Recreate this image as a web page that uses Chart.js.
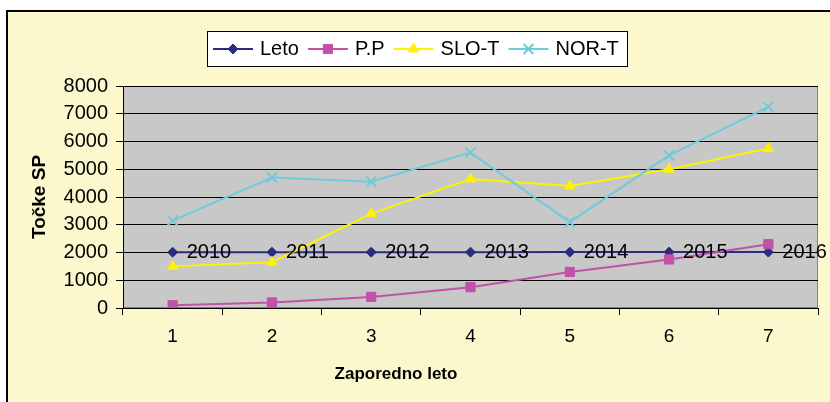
<!DOCTYPE html>
<html>
<head>
<meta charset="utf-8">
<script src="https://cdn.jsdelivr.net/npm/chart.js@4"></script>
<style>
  body { margin: 0; background: #fff; }
  #wrap {
    position: absolute; left: 6px; top: 10px;
    border-top: 2px solid #000; border-left: 2px solid #000;
    background: #FCF8CE;
  }
  canvas { display: block; }
</style>
</head>
<body>
<div id="wrap"><canvas id="myChart" width="822" height="390"></canvas></div>
<script>
// data
const categories = ['1', '2', '3', '4', '5', '6', '7'];
const leto = [2010, 2011, 2012, 2013, 2014, 2015, 2016];
const pp = [100, 200, 400, 750, 1300, 1750, 2300];
const sloT = [1500, 1650, 3400, 4650, 4400, 5000, 5750];
const norT = [3150, 4700, 4550, 5600, 3100, 5500, 7250];
const yMax = 8000;
const yStep = 1000;

const FONT = "'Liberation Sans', Arial, sans-serif";

//gray plot area with a thin border
const plotBg = {
  id: 'plotBg',
  beforeDraw(chart) {
    const {ctx, chartArea: a} = chart;
    ctx.save();
    ctx.fillStyle = '#C8C8C8';
    ctx.fillRect(a.left, a.top, a.width, a.height);
    ctx.strokeStyle = '#808080';
    ctx.lineWidth = 1;
    ctx.strokeRect(a.left + 0.5, a.top + 0.5, a.width - 1, a.height - 1);
    ctx.restore();
  }
};

//year labels next to the Leto points
const letoLabels = {
  id: 'letoLabels',
  afterDatasetsDraw(chart) {
    const ctx = chart.ctx;
    const meta = chart.getDatasetMeta(0);
    ctx.save();
    ctx.font = '20px ' + FONT;
    ctx.fillStyle = '#000';
    ctx.textAlign = 'left';
    ctx.textBaseline = 'middle';
    meta.data.forEach((pt, i) => {
      ctx.fillText(String(chart.data.datasets[0].data[i]), pt.x + 14, pt.y);
    });
    ctx.restore();
  }
};

//x axis title, placed left of plot centre like the original
const xTitle = {
  id: 'xTitle',
  afterDraw(chart) {
    const ctx = chart.ctx;
    ctx.save();
    ctx.font = 'bold 17px ' + FONT;
    ctx.fillStyle = '#000';
    ctx.textAlign = 'center';
    ctx.textBaseline = 'middle';
    ctx.fillText('Zaporedno leto', 388, 362);
    ctx.restore();
  }
};

//boxed legend on top
const boxLegend = {
  id: 'boxLegend',
  afterDraw(chart) {
    const ctx = chart.ctx;
    const box = {x: 199, y: 19, w: 420, h: 35};
    ctx.save();
    ctx.fillStyle = '#fff';
    ctx.fillRect(box.x, box.y, box.w, box.h);
    ctx.strokeStyle = '#000';
    ctx.lineWidth = 1;
    ctx.strokeRect(box.x + 0.5, box.y + 0.5, box.w, box.h);
    ctx.font = '20px ' + FONT;
    ctx.textBaseline = 'middle';
    let x = box.x + 6;
    const cy = box.y + box.h / 2 + 0.5;
    chart.data.datasets.forEach(ds => {
      ctx.strokeStyle = ds.borderColor;
      ctx.lineWidth = 2;
      ctx.beginPath();
      ctx.moveTo(x, cy);
      ctx.lineTo(x + 40, cy);
      ctx.stroke();
      ctx.fillStyle = ds.pointBackgroundColor;
      ctx.strokeStyle = ds.pointBorderColor;
      ctx.lineWidth = ds.pointBorderWidth;
      Chart.helpers.drawPoint(ctx, {
        pointStyle: ds.pointStyle, radius: ds.pointRadius,
        rotation: 0, borderWidth: ds.pointBorderWidth
      }, x + 20, cy);
      ctx.fillStyle = '#000';
      ctx.fillText(ds.label, x + 47, cy);
      x += 47 + ctx.measureText(ds.label).width + 9;
    });
    ctx.restore();
  }
};

const ctx = document.getElementById('myChart');

new Chart(ctx, {
  type: 'line',
  data: {
    labels: categories,
    datasets: [{
      label: 'Leto',
      data: leto,
      borderColor: '#2B2B80',
      borderWidth: 2,
      pointStyle: 'rectRot',
      pointRadius: 5,
      pointBackgroundColor: '#2B2B80',
      pointBorderColor: '#2B2B80',
      pointBorderWidth: 1,
      order: 4
    }, {
      label: 'P.P',
      data: pp,
      borderColor: '#C252A8',
      borderWidth: 2,
      pointStyle: 'rect',
      pointRadius: 6.5,
      pointBackgroundColor: '#C252A8',
      pointBorderColor: '#C252A8',
      pointBorderWidth: 1,
      order: 3
    }, {
      label: 'SLO-T',
      data: sloT,
      borderColor: '#FFF200',
      borderWidth: 2,
      pointStyle: 'triangle',
      pointRadius: 6,
      pointBackgroundColor: '#FFF200',
      pointBorderColor: '#FFF200',
      pointBorderWidth: 1,
      order: 2
    }, {
      label: 'NOR-T',
      data: norT,
      borderColor: '#6ECBDC',
      borderWidth: 2,
      pointStyle: 'crossRot',
      pointRadius: 7,
      pointBackgroundColor: '#6ECBDC',
      pointBorderColor: '#6ECBDC',
      pointBorderWidth: 2,
      order: 1
    }]
  },
  options: {
    responsive: false,
    animation: false,
    layout: { padding: { top: 74, right: 12, left: 0, bottom: 0 } },
    plugins: {
      legend: { display: false },
      tooltip: { enabled: false }
    },
    scales: {
      x: {
        offset: true,
        afterFit: s => { s.height = 94; },
        grid: { offset: true, drawOnChartArea: false, tickLength: 7, tickColor: '#000' },
        border: { color: '#000', width: 1 },
        ticks: { color: '#000', padding: 10, font: { family: FONT, size: 19 } }
      },
      y: {
        min: 0,
        max: yMax,
        afterFit: s => { s.width = 115; },
        grid: { color: '#000', tickLength: 7, tickColor: '#000' },
        border: { color: '#000', width: 1 },
        ticks: {
          stepSize: yStep, color: '#000', padding: 8,
          font: { family: FONT, size: 20 },
          callback: v => String(v)
        },
        title: {
          display: true,
          text: 'Točke SP',
          color: '#000',
          padding: { top: 20, bottom: 0 },
          font: { family: FONT, size: 19, weight: 'bold' }
        }
      }
    }
  },
  plugins: [plotBg, letoLabels, xTitle, boxLegend]
});
</script>
</body>
</html>
